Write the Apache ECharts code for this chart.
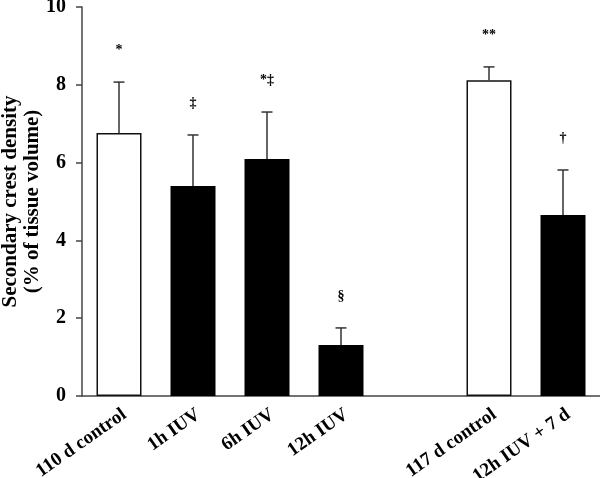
<!DOCTYPE html>
<html>
<head>
<meta charset="utf-8">
<script src="https://cdn.jsdelivr.net/npm/echarts@6/dist/echarts.min.js"></script>
<style>
  html, body { margin: 0; padding: 0; background: #fff; }
  #chart { width: 600px; height: 478px; }
</style>
</head>
<body>
<div id="chart"></div>
<script>
// groups, with an empty slot between the two experiments
const categories = ['110 d control', '1h IUV', '6h IUV', '12h IUV', '', '117 d control', '12h IUV + 7 d']
const means = [6.76, 5.40, 6.09, 1.31, null, 8.12, 4.65]
const errors = [1.31, 1.31, 1.21, 0.44, null, 0.34, 1.16]
const isControl = [true, false, false, false, null, true, false]
const marks = ['*', '‡', '*‡', '§', '', '**', '†']
const yTicks = [0, 2, 4, 6, 8, 10]

const font = 'Liberation Serif'
const axisColor = '#444'

const chart = echarts.init(document.getElementById('chart'))

const barData = means.map((v, i) => ({
  value: v,
  itemStyle: isControl[i]
    ? { color: '#fff', borderColor: '#111', borderWidth: 1.5 }
    : { color: '#000' }
}))

const errData = means.map((v, i) => (v == null ? [i, null, null] : [i, v, v + errors[i]]))

chart.setOption({
  animation: false,
  grid: { left: 82, right: 0, top: 7, bottom: 82, outerBoundsMode: 'none' },
  xAxis: {
    type: 'category',
    data: categories,
    axisLine: { lineStyle: { color: axisColor, width: 1.5 } },
    axisTick: { show: false },
    axisLabel: {
      interval: 0,
      rotate: 35,
      margin: 9,
      verticalAlign: 'top',
      color: '#000',
      fontFamily: font,
      fontWeight: 'bold',
      fontSize: 19
    }
  },
  yAxis: {
    type: 'value',
    min: yTicks[0],
    max: yTicks[yTicks.length - 1],
    interval: 2,
    name: 'Secondary crest density\n(% of tissue volume)',
    nameLocation: 'middle',
    nameRotate: 90,
    nameGap: 38,
    nameMoveOverlap: false,
    nameTextStyle: {
      color: '#000',
      fontFamily: font,
      fontWeight: 'bold',
      fontSize: 21,
      lineHeight: 22
    },
    axisLine: { show: true, lineStyle: { color: axisColor, width: 1.5 } },
    axisTick: { show: true, length: 6, lineStyle: { color: axisColor, width: 1.5 } },
    splitLine: { show: false },
    axisLabel: {
      margin: 16,
      color: '#000',
      fontFamily: font,
      fontWeight: 'bold',
      fontSize: 20
    }
  },
  series: [
    {
      type: 'bar',
      data: barData,
      barWidth: 45
    },
    {
      type: 'custom',
      data: errData,
      z: 3,
      renderItem(params, api) {
        const i = api.value(0)
        if (means[i] == null) return null
        const base = api.coord([i, api.value(1)])
        const top = api.coord([i, api.value(2)])
        const cap = 5.5
        const lineStyle = { stroke: '#333', lineWidth: 1.5 }
        return {
          type: 'group',
          children: [
            { type: 'line', shape: { x1: base[0], y1: base[1], x2: top[0], y2: top[1] }, style: lineStyle },
            { type: 'line', shape: { x1: top[0] - cap, y1: top[1], x2: top[0] + cap, y2: top[1] }, style: lineStyle },
            {
              type: 'text',
              style: {
                x: top[0],
                y: top[1] - 25,
                text: marks[i],
                fill: '#000',
                font: 'bold 14px "' + font + '"',
                textAlign: 'center',
                textVerticalAlign: 'bottom'
              }
            }
          ]
        }
      }
    }
  ]
})
</script>
</body>
</html>
